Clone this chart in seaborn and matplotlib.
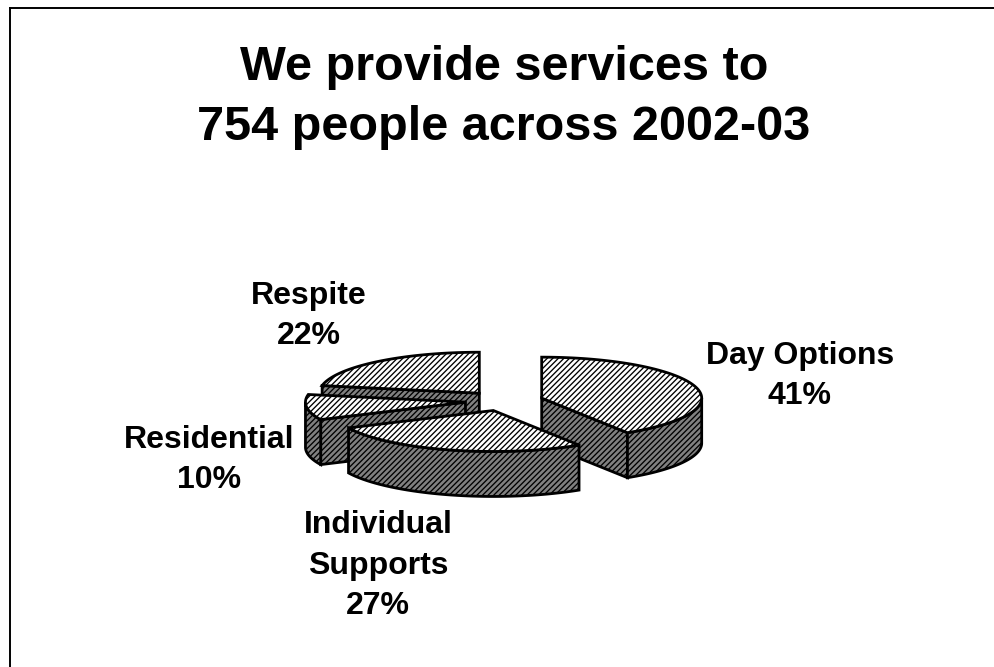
import numpy as np
import matplotlib
matplotlib.use("Agg")
import matplotlib.pyplot as plt
from matplotlib.patches import Polygon
import seaborn as sns

title_lines = ["We provide services to", "754 people across 2002-03"]
categories = ["Day Options", "Individual\nSupports", "Residential", "Respite"]
shares = [41, 27, 10, 22]

# Pie geometry, in pixels of the 995x667 canvas
CX, CY = 504.2, 400.9
RX, TILT = 160.0, 0.256
DEPTH = 45.0
EXPLODE = 0.244
title_baselines = [80, 140]
# Centre x and the baseline of each label's last line
label_xy = [(800, 404), (378, 614), (209, 488), (309, 344)]
draw_order = [3, 2, 0, 1]

sns.set_style("white")
plt.rcParams["font.family"] = ["Liberation Sans", "DejaVu Sans"]
plt.rcParams["hatch.linewidth"] = 0.95

W, H = 995, 667
fig = plt.figure(figsize=(W / 100, H / 100), dpi=100, facecolor="white")
ax = fig.add_axes([10 / W, 0, (W - 10) / W, (H - 8) / H])
ax.set_xlim(10, W)
ax.set_ylim(H, 8)
ax.set_xticks([])
ax.set_yticks([])
ax.set_facecolor("white")
sns.despine(ax=ax, top=False, left=False, right=True, bottom=True)
for side in ("top", "left"):
    ax.spines[side].set_linewidth(1.4)
    ax.spines[side].set_color("black")


def rim(center, t):
    """Point on the tilted rim at clockwise angle t (radians from 12 o'clock)."""
    return np.column_stack([center[0] + RX * np.sin(t),
                            center[1] - RX * TILT * np.cos(t)])


def face(points, shaded):
    fc = "#808080" if shaded else "white"
    ax.add_patch(Polygon(points, closed=True, facecolor=fc, edgecolor="black",
                         hatch="//////", linewidth=2.0, joinstyle="miter", clip_on=False))


def wall(top_edge):
    """Vertical side of the slice hanging below a run of top-surface points."""
    lower = top_edge[::-1] + np.array([0, DEPTH])
    face(np.vstack([top_edge, lower]), True)


fractions = np.array(shares) / sum(shares)
edges = np.concatenate([[0], np.cumsum(fractions)]) * 2 * np.pi

for i in draw_order:
    a0, a1 = edges[i], edges[i + 1]
    mid = (a0 + a1) / 2
    center = np.array([CX + EXPLODE * RX * np.sin(mid),
                       CY - EXPLODE * RX * TILT * np.cos(mid)])
    apex = center[None, :]
    t = np.linspace(a0, a1, 160)
    arc = rim(center, t)

    # Cut faces turned towards the viewer
    if np.sin(a0) < -1e-6:
        wall(np.vstack([rim(center, np.array([a0])), apex]))
    if np.sin(a1) > 1e-6:
        wall(np.vstack([apex, rim(center, np.array([a1]))]))

    # Outer wall: only the part of the rim on the near half
    near = t[np.cos(t) <= 0]
    if near.size:
        wall(rim(center, near))

    # Top surface
    face(np.vstack([apex, arc]), False)

for line, y in zip(title_lines, title_baselines):
    ax.text(504, y, line, ha="center", va="baseline", fontsize=35,
            fontweight="bold", color="black", clip_on=False)

for name, share, (x, y) in zip(categories, shares, label_xy):
    ax.text(x, y, f"{name}\n{share}%", ha="center", va="baseline", fontsize=23,
            fontweight="bold", color="black", linespacing=1.45, clip_on=False)

fig.savefig("out.png", dpi=100, facecolor="white")
